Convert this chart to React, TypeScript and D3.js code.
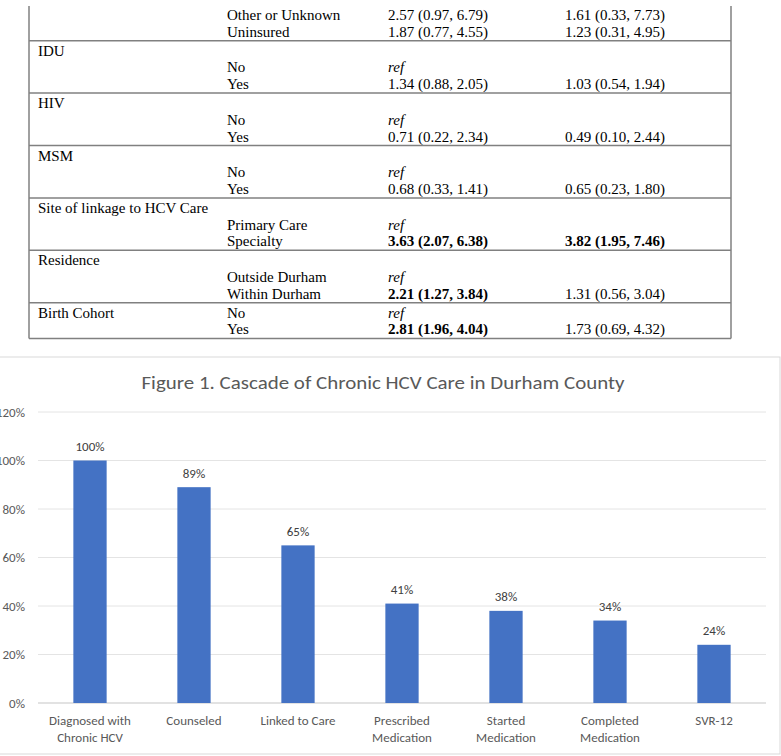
import * as d3 from 'd3'

// ---- table (top half of the page) ----
type Line = [string, string, string, string]

const insuranceLines: Line[] = [
  ['', 'Other or Unknown', '2.57 (0.97, 6.79)', '1.61 (0.33, 7.73)'],
  ['', 'Uninsured', '1.87 (0.77, 4.55)', '1.23 (0.31, 4.95)'],
]
const iduLines: Line[] = [
  ['IDU', '', '', ''],
  ['', 'No', 'ref', ''],
  ['', 'Yes', '1.34 (0.88, 2.05)', '1.03 (0.54, 1.94)'],
]
const hivLines: Line[] = [
  ['HIV', '', '', ''],
  ['', 'No', 'ref', ''],
  ['', 'Yes', '0.71 (0.22, 2.34)', '0.49 (0.10, 2.44)'],
]
const msmLines: Line[] = [
  ['MSM', '', '', ''],
  ['', 'No', 'ref', ''],
  ['', 'Yes', '0.68 (0.33, 1.41)', '0.65 (0.23, 1.80)'],
]
const siteLines: Line[] = [
  ['Site of linkage to HCV Care', '', '', ''],
  ['', 'Primary Care', 'ref', ''],
  ['', 'Specialty', '3.63 (2.07, 6.38)', '3.82 (1.95, 7.46)'],
]
const residenceLines: Line[] = [
  ['Residence', '', '', ''],
  ['', 'Outside Durham', 'ref', ''],
  ['', 'Within Durham', '2.21 (1.27, 3.84)', '1.31 (0.56, 3.04)'],
]
const cohortLines: Line[] = [
  ['Birth Cohort', 'No', 'ref', ''],
  ['', 'Yes', '2.81 (1.96, 4.04)', '1.73 (0.69, 4.32)'],
]
const tableGroups = [insuranceLines, iduLines, hivLines, msmLines, siteLines, residenceLines, cohortLines]
const boldCells = ['3.63 (2.07, 6.38)', '3.82 (1.95, 7.46)', '2.21 (1.27, 3.84)', '2.81 (1.96, 4.04)']

// ---- bar chart ----
const stages = [
  'Diagnosed with\nChronic HCV',
  'Counseled',
  'Linked to Care',
  'Prescribed\nMedication',
  'Started\nMedication',
  'Completed\nMedication',
  'SVR-12',
]
const percents = [100, 89, 65, 41, 38, 34, 24]
const yTicks = [0, 20, 40, 60, 80, 100, 120]

export default function App() {
  // table layout
  const colX = [38, 227, 388, 565]
  const pitch = 16.7
  const tableLeft = 29
  const tableRight = 731
  let top = 5
  const groups = tableGroups.map((lines, gi) => {
    const t = top
    const baselines = lines.map((_, i) => t + 15 + i * pitch)
    const bottom = baselines[baselines.length - 1] + 4
    top = bottom
    return { lines, baselines, top: t, bottom, gi }
  })
  const tableBottom = top

  // chart layout
  const x = d3.scaleBand<string>().domain(stages).range([38, 766]).paddingInner(0.68).paddingOuter(0.34)
  const y = d3.scaleLinear().domain([0, 120]).range([703, 412])
  const sans = 'Carlito, Lato, sans-serif'

  return (
    <svg width={781} height={756} style={{ position: 'absolute', left: 0, top: 0, background: '#fff' }}>
      <rect width={781} height={756} fill="#fff" />
      {/* table */}
      <g fontFamily="'Liberation Serif', 'Times New Roman', serif" fontSize={15} fill="#000">
        {groups.map(g => (
          <g key={g.gi}>
            {g.lines.map((line, li) =>
              line.map((cell, ci) =>
                cell ? (
                  <text
                    key={li + '-' + ci}
                    x={colX[ci]}
                    y={g.baselines[li]}
                    fontStyle={cell === 'ref' ? 'italic' : 'normal'}
                    fontWeight={boldCells.includes(cell) ? 'bold' : 'normal'}
                  >
                    {cell}
                  </text>
                ) : null
              )
            )}
            <line x1={tableLeft} x2={tableRight} y1={g.bottom} y2={g.bottom} stroke="#808080" strokeWidth={1.5} />
          </g>
        ))}
        <line x1={tableLeft} x2={tableLeft} y1={6} y2={tableBottom} stroke="#808080" strokeWidth={1.5} />
        <line x1={tableRight} x2={tableRight} y1={6} y2={tableBottom} stroke="#808080" strokeWidth={1.5} />
      </g>

      {/* chart frame */}
      <rect x={-5} y={357} width={785} height={397} fill="#fff" stroke="#d9d9d9" strokeWidth={1} />
      <text x={383} y={389} textAnchor="middle" fontFamily={sans} fontSize={18.5} fill="#595959"
        textLength={483} lengthAdjust="spacingAndGlyphs">
        Figure 1. Cascade of Chronic HCV Care in Durham County
      </text>

      {/* gridlines + y ticks */}
      {yTicks.map(t => (
        <g key={t}>
          <line x1={38} x2={766} y1={y(t)} y2={y(t)} stroke={t === 0 ? '#d9d9d9' : '#e4e4e4'} strokeWidth={t === 0 ? 1.3 : 1} />
          <text x={25} y={y(t)} dy="0.35em" textAnchor="end" fontFamily={sans} fontSize={13} fill="#595959">
            {t}%
          </text>
        </g>
      ))}

      {/* bars */}
      {stages.map((s, i) => (
        <g key={s}>
          <rect x={x(s)} y={y(percents[i])} width={x.bandwidth()} height={y(0) - y(percents[i])} fill="#4472c4" />
          <text x={(x(s) ?? 0) + x.bandwidth() / 2} y={y(percents[i]) - 14} dy="0.35em" textAnchor="middle"
            fontFamily={sans} fontSize={13} fill="#404040">
            {percents[i]}%
          </text>
          {s.split('\n').map((part, k) => (
            <text key={k} x={(x(s) ?? 0) + x.bandwidth() / 2} y={725 + k * 17} textAnchor="middle"
              fontFamily={sans} fontSize={13} fill="#595959">
              {part}
            </text>
          ))}
        </g>
      ))}
    </svg>
  )
}
